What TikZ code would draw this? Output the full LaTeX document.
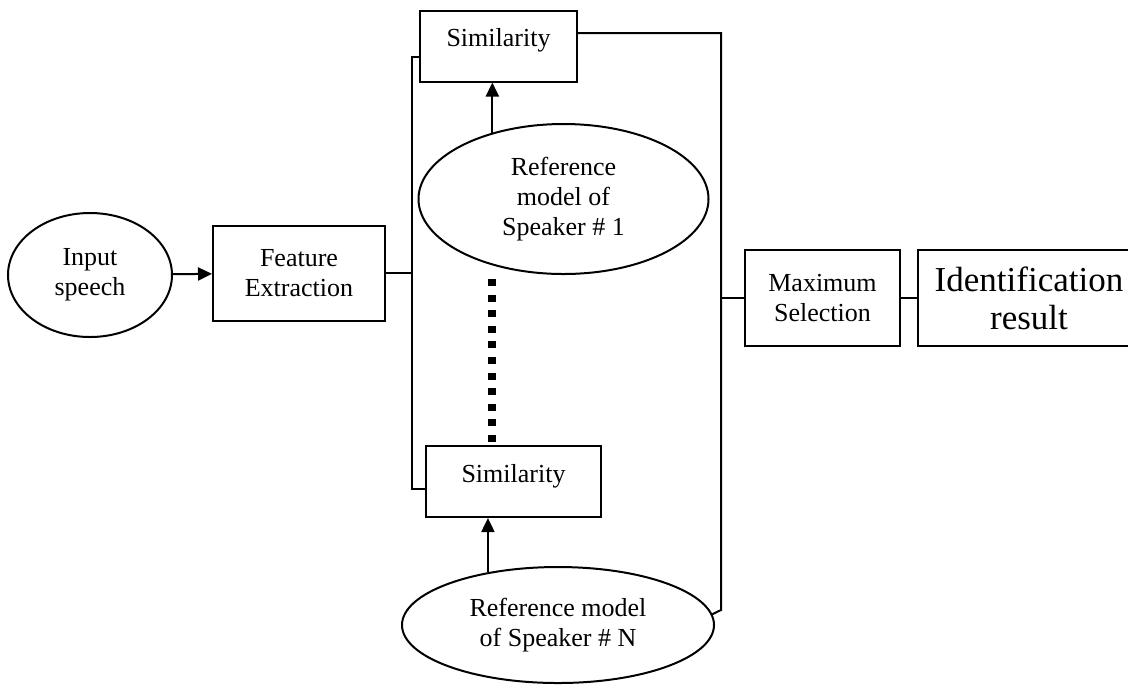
\documentclass[tikz,border=0pt]{standalone}
\usepackage{fontspec}
\setmainfont{Liberation Serif}
\usetikzlibrary{shapes.geometric,arrows.meta}
\tikzset{>={Triangle[length=7pt,width=6.5pt]}}

\begin{document}
\begin{tikzpicture}[x=0.5pt, y=-0.5pt, line width=1pt,
    block/.style={draw, rectangle, align=center, inner sep=0pt, font=\fontsize{13}{15}\selectfont},
    simbox/.style={block, minimum width=78.5pt, text height=18pt, text depth=17.5pt},
    oval/.style={draw, ellipse, align=center, inner sep=0pt, font=\fontsize{13}{15}\selectfont},
    dots/.style={line width=4pt, dash pattern=on 3.5pt off 4.3pt}]
     \clip (0,0) rectangle (1128,687);
     \node[oval, minimum width=82pt, minimum height=62pt] (inp) at (90,275) {Input\\speech};
     \node[block, minimum width=86pt, minimum height=47.5pt] (feat) at (299,273) {Feature\\Extraction};
     \node[simbox] (sim1) at (498.5,46) {Similarity};
     \node[oval, minimum width=145pt, minimum height=75pt] (ref1) at (563.5,199) {Reference\\model of\\Speaker \# 1};
     \node[simbox, minimum width=87.5pt] (simN) at (513.5,481.5) {Similarity};
     \node[oval, minimum width=156pt, minimum height=58pt] (refN) at (558,625) {Reference model\\of Speaker \# N};
     \node[block, minimum width=77.5pt, minimum height=48pt] (maxsel) at (822.5,298) {Maximum\\Selection};
     \node[block, minimum width=111pt, minimum height=48pt, font=\fontsize{17.5}{19}\selectfont] (ident) at (1029,298) {Identification\\result};
     \coordinate (lb1) at (412,57);
     \coordinate (lb2) at (412,489);
     \coordinate (rb1) at (721,33);
     \coordinate (rb2) at (721,610);
     \draw[->] (inp) -- (feat);
     \draw (feat.east) -- (feat.east -| lb1);
     \draw (sim1.west |- lb1) -- (lb1) -- (lb2) -- (simN.west |- lb2);
     \draw (sim1.east |- rb1) -- (rb1) -- (rb2) -- (refN.4);
     \draw (rb1 |- maxsel.west) -- (maxsel.west);
     \draw (maxsel) -- (ident);
     \draw[->] (ref1.137) -- (ref1.137 |- sim1.south);
     \draw[->] (refN.143) -- (refN.143 |- simN.south);
     \draw[dots] ([yshift=-2pt]ref1.137 |- ref1.south) -- (ref1.137 |- simN.north);
\end{tikzpicture}
\end{document}
